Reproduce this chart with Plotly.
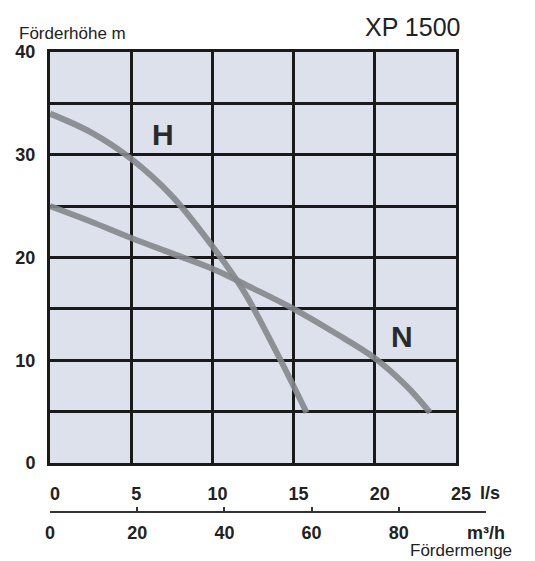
import plotly.graph_objects as go

# Data
h_flow = [0, 2.5, 5, 7.5, 10, 11.9, 14.2, 15.8]
h_head = [34.0, 32.2, 29.6, 26.0, 21.1, 16.8, 10.0, 4.9]
n_flow = [0, 2.5, 5, 7.5, 10, 12.5, 15, 17.5, 20, 22, 23.4]
n_head = [25.0, 23.5, 21.9, 20.4, 18.9, 17.0, 15.0, 12.7, 10.2, 7.4, 4.9]

x_ticks = [0, 5, 10, 15, 20, 25]
x_labels = ["0", "5", "10", "15", "20", "25"]
y_ticks = [0, 5, 10, 15, 20, 25, 30, 35, 40]
y_labels = ["0", "", "10", "", "20", "", "30", "", "40"]
m3_ticks = [0, 20, 40, 60, 80, 100]
m3_labels = ["0", "20", "40", "60", "80", "m³/h"]

TXT = "#222222"
GRID = "#1a1a1a"
CURVE = "rgba(132,135,140,0.9)"
BG = "#dde1ec"
FONT = "Liberation Sans, Arial, sans-serif"

fig = go.Figure()
fig.add_trace(go.Scatter(x=h_flow, y=h_head, mode="lines",
                         line=dict(color=CURVE, width=6, shape="spline"),
                         showlegend=False, hoverinfo="skip"))
fig.add_trace(go.Scatter(x=n_flow, y=n_head, mode="lines",
                         line=dict(color=CURVE, width=6, shape="spline"),
                         showlegend=False, hoverinfo="skip"))
# empty trace to host secondary flow axis (m³/h)
fig.add_trace(go.Scatter(x=[], y=[], xaxis="x2", yaxis="y2",
                         showlegend=False, hoverinfo="skip"))

fig.add_shape(type="rect", xref="x", yref="y", x0=0, x1=25, y0=0, y1=40,
              fillcolor=BG, line=dict(width=0), layer="below")

fig.update_layout(
    width=535, height=561,
    margin=dict(l=50, r=35, t=52, b=50, autoexpand=False),
    paper_bgcolor="white", plot_bgcolor="rgba(0,0,0,0)",
    font=dict(family=FONT, color=TXT),
    xaxis=dict(domain=[0, 406 / 450], range=[0, 25], tickvals=x_ticks, ticktext=x_labels,
               showgrid=True, gridcolor=GRID, gridwidth=3, zeroline=False,
               showline=True, linecolor=GRID, linewidth=3, mirror=True,
               ticks="", ticklabelstandoff=12, ticklabelshift=5, automargin=False,
               tickfont=dict(family=FONT, size=18, color=TXT, weight="bold"),
               anchor="y", fixedrange=True),
    yaxis=dict(domain=[48 / 459, 1], range=[0, 40], tickvals=y_ticks, ticktext=y_labels,
               showgrid=True, gridcolor=GRID, gridwidth=3, zeroline=False,
               showline=True, linecolor=GRID, linewidth=3, mirror=True,
               ticks="", ticklabelstandoff=8, automargin=False,
               tickfont=dict(family=FONT, size=18, color=TXT, weight="bold"),
               anchor="x", fixedrange=True),
    xaxis2=dict(domain=[0, 436 / 450], range=[0, 100], tickvals=m3_ticks, ticktext=m3_labels,
                showgrid=False, zeroline=False, showline=True, linecolor="#333333", linewidth=2,
                ticks="inside", ticklen=4, tickwidth=2, tickcolor="#333333",
                ticklabelstandoff=4, automargin=False,
                tickfont=dict(family=FONT, size=18, color=TXT, weight="bold"),
                anchor="y2", fixedrange=True),
    yaxis2=dict(domain=[0, 0.01], range=[0, 1], visible=False, anchor="x2",
                automargin=False, fixedrange=True),
    annotations=[
        dict(text="Förderhöhe m", xref="paper", yref="paper", x=-33 / 450, y=(511 - 33) / 459,
             xanchor="left", yanchor="middle", showarrow=False,
             font=dict(family=FONT, size=17, color=TXT)),
        dict(text="XP 1500", xref="paper", yref="paper", x=(412 - 50) / 450, y=(511 - 27) / 459,
             xanchor="center", yanchor="middle", showarrow=False,
             font=dict(family=FONT, size=25, color=TXT)),
        dict(text="Fördermenge", xref="paper", yref="paper", x=(461 - 50) / 450, y=(511 - 550) / 459,
             xanchor="center", yanchor="middle", showarrow=False,
             font=dict(family=FONT, size=17, color=TXT)),
        dict(text="l/s", xref="x", yref="paper", x=25, xshift=34, y=(511 - 493) / 459,
             xanchor="center", yanchor="middle", showarrow=False,
             font=dict(family=FONT, size=18, color=TXT, weight="bold")),
        dict(text="H", xref="x", yref="y", x=6.95, y=32.0, showarrow=False,
             font=dict(family=FONT, size=30, color="#2a2a2a", weight="bold")),
        dict(text="N", xref="x", yref="y", x=21.7, y=12.3, showarrow=False,
             font=dict(family=FONT, size=30, color="#2a2a2a", weight="bold")),
    ],
)

fig.write_html("out.html", config={"displayModeBar": False},
               post_script="document.body.style.margin='0';document.body.style.overflow='hidden';")
